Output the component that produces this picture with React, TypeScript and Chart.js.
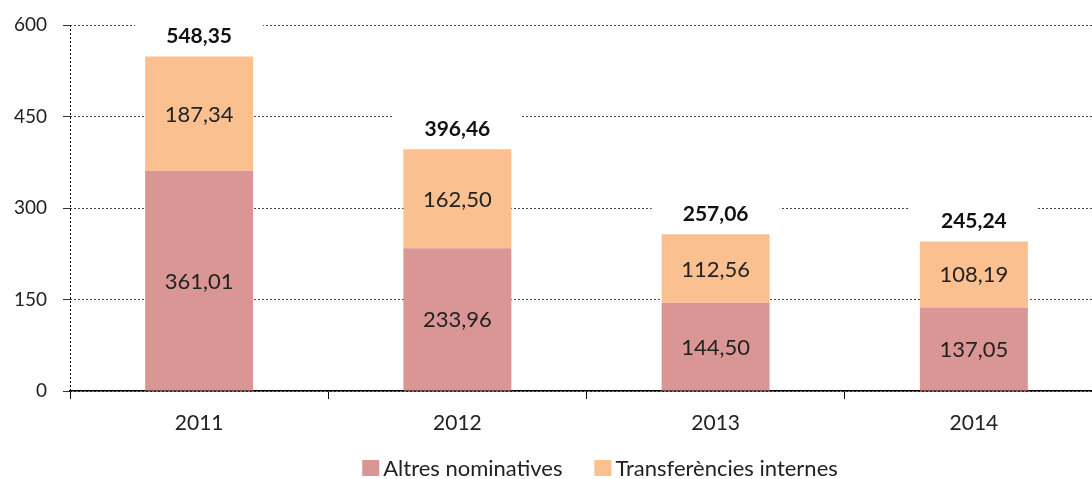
import React, { useEffect, useRef } from "react";
import { Chart, registerables } from "chart.js";

Chart.register(...registerables);

const years = ["2011", "2012", "2013", "2014"];
const altresNominatives = [361.01, 233.96, 144.5, 137.05];
const transferencies = [187.34, 162.5, 112.56, 108.19];
const totals = [548.35, 396.46, 257.06, 245.24];
const seriesNames = ["Altres nominatives", "Transferències internes"];
const seriesColors = ["#D99694", "#FAC090"];
const yTicks = [0, 150, 300, 450, 600];

const FONT = "Lato";
const fmt = (v: number) => v.toFixed(2).replace(".", ",");

const labelsPlugin = {
  id: "valueLabels",
  afterDatasetsDraw(chart: any) {
    const ctx = chart.ctx;
    ctx.save();
    ctx.textAlign = "center";
    ctx.textBaseline = "middle";
    chart.data.datasets.forEach((ds: any, di: number) => {
      const meta = chart.getDatasetMeta(di);
      meta.data.forEach((el: any, i: number) => {
        const mid = (el.y + el.base) / 2;
        ctx.fillStyle = "#222";
        ctx.font = `22px ${FONT}`;
        ctx.fillText(fmt(ds.data[i]), el.x, mid + 1);
      });
    });
    const topMeta = chart.getDatasetMeta(chart.data.datasets.length - 1);
    topMeta.data.forEach((el: any, i: number) => {
      const y = el.y - 20;
      ctx.fillStyle = "#fff";
      ctx.fillRect(el.x - 64, y - 17, 128, 34);
      ctx.fillStyle = "#111";
      ctx.font = `bold 21px ${FONT}`;
      ctx.fillText(fmt(totals[i]), el.x, y);
    });
    ctx.restore();
  },
};

const legendPlugin = {
  id: "customLegend",
  afterDraw(chart: any) {
    const ctx = chart.ctx;
    ctx.save();
    ctx.font = `22px ${FONT}`;
    ctx.textBaseline = "middle";
    ctx.textAlign = "left";
    const box = 17;
    const gapBoxText = 4;
    const gapItems = 32;
    const widths = seriesNames.map((n) => ctx.measureText(n).width);
    const total =
      widths.reduce((a, w) => a + box + gapBoxText + w, 0) + gapItems * (seriesNames.length - 1);
    let x = chart.width / 2 - total / 2;
    const y = 468;
    seriesNames.forEach((n, i) => {
      ctx.fillStyle = seriesColors[i];
      ctx.fillRect(x, y - 8, box, 16);
      x += box + gapBoxText;
      ctx.fillStyle = "#222";
      ctx.fillText(n, x, y + 1);
      x += widths[i] + gapItems;
    });
    ctx.restore();
  },
};

export default function App() {
  const ref = useRef<HTMLCanvasElement>(null);
  useEffect(() => {
    if (!ref.current) return;
    const chart = new Chart(ref.current, {
      type: "bar",
      data: {
        labels: years,
        datasets: [
          {
            label: seriesNames[0],
            data: altresNominatives,
            backgroundColor: seriesColors[0],
            borderWidth: 0,
          },
          {
            label: seriesNames[1],
            data: transferencies,
            backgroundColor: seriesColors[1],
            borderWidth: 0,
          },
        ],
      },
      options: {
        animation: false,
        responsive: false,
        devicePixelRatio: 1,
        layout: { padding: { left: 0, top: 25, right: 97, bottom: 40 } },
        datasets: {
          bar: { categoryPercentage: 1, barPercentage: 0.418 },
        },
        plugins: {
          tooltip: { enabled: false },
          legend: { display: false },
        },
        scales: {
          x: {
            stacked: true,
            afterFit: (s: any) => {
              s.height = 48;
            },
            grid: {
              offset: true,
              drawOnChartArea: true,
              drawTicks: true,
              tickLength: 8,
              color: (c: any) => (c.index === 0 ? "#000" : "rgba(0,0,0,0)"),
              tickColor: "#000",
              lineWidth: 1,
            },
            border: { display: true, color: "#000", width: 1.5, dash: [2, 2] },
            ticks: {
              color: "#222",
              padding: 12,
              font: { family: FONT, size: 21 },
            },
          },
          y: {
            stacked: true,
            min: 0,
            max: 600,
            afterFit: (s: any) => {
              s.width = 70;
              s.paddingTop = 0;
              s.paddingBottom = 0;
            },
            afterBuildTicks: (s: any) => {
              s.ticks = yTicks.map((v) => ({ value: v }));
            },
            grid: {
              color: "#444",
              tickColor: "#333",
              tickLength: 7,
              lineWidth: 1,
            },
            border: { display: false, dash: [2, 2] },
            ticks: {
              color: "#222",
              padding: 16,
              font: { family: FONT, size: 19 },
              callback: (v: any) => String(v),
            },
          },
        },
      },
      plugins: [labelsPlugin, legendPlugin],
    });
    return () => chart.destroy();
  }, []);

  return (
    <div
      style={{
        position: "absolute",
        left: 0,
        top: 0,
        width: 1092,
        height: 479,
        overflow: "hidden",
        background: "#fff",
      }}
    >
      <canvas ref={ref} width={1200} height={479} style={{ width: 1200, height: 479, display: "block" }} />
    </div>
  );
}
